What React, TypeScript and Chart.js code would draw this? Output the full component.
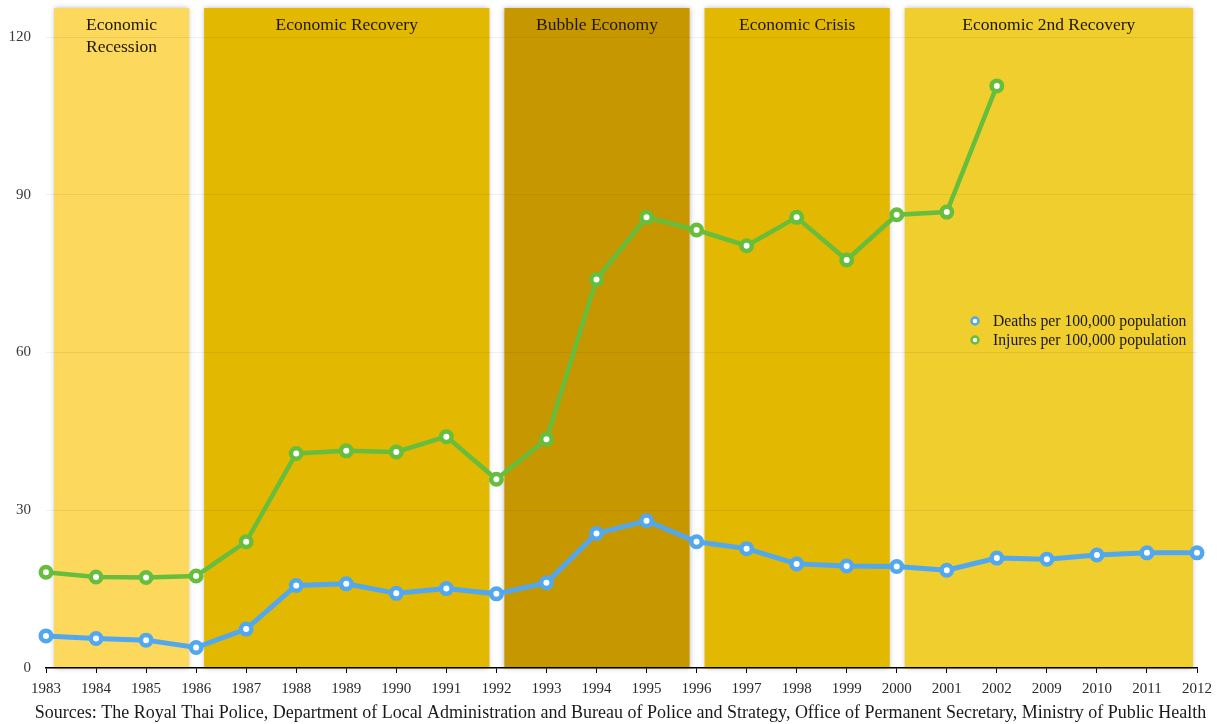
import { useEffect, useRef } from "react";
import { Chart, registerables } from "chart.js";

Chart.register(...registerables);

// Years on the x axis (gap between 2002 and 2009 in the source series)
const years = [
  "1983", "1984", "1985", "1986", "1987", "1988", "1989", "1990", "1991", "1992",
  "1993", "1994", "1995", "1996", "1997", "1998", "1999", "2000", "2001", "2002",
  "2009", "2010", "2011", "2012",
];

// Road traffic deaths per 100,000 population
const deathsPer100k = [
  6.1, 5.6, 5.3, 3.9, 7.4, 15.7, 16.0, 14.2, 15.1, 14.1,
  16.2, 25.6, 28.0, 24.0, 22.7, 19.8, 19.4, 19.3, 18.6, 20.9,
  20.7, 21.5, 21.9, 21.9,
];

// Road traffic injuries per 100,000 population (no data after 2002)
const injuriesPer100k: (number | null)[] = [
  18.2, 17.3, 17.2, 17.5, 24.0, 40.8, 41.3, 41.1, 44.0, 35.9,
  43.5, 73.9, 85.7, 83.3, 80.3, 85.7, 77.6, 86.2, 86.7, 110.7,
  null, null, null, null,
];

const yTicks = [0, 30, 60, 90, 120];

// Economic periods shaded behind the series
const periodNames = [
  ["Economic", "Recession"],
  ["Economic Recovery"],
  ["Bubble Economy"],
  ["Economic Crisis"],
  ["Economic 2nd Recovery"],
];
const periodFrom = ["1983", "1986", "1992", "1996", "2000"];
const periodTo = ["1986", "1992", "1996", "2000", "2012"];
const periodColors = ["#FCD95C", "#E2B800", "#C79700", "#E2B800", "#F0CE2E"];

const seriesLabels = ["Deaths per 100,000 population", "Injures per 100,000 population"];
const seriesColors = ["#52A8EE", "#66BE3C"];

const sourceNote =
  "Sources: The Royal Thai Police, Department of Local Administration and Bureau of Police and Strategy, Office of Permanent Secretary, Ministry of Public Health";

const SERIF = "'Liberation Serif', 'Times New Roman', serif";

const periodBands = {
  id: "periodBands",
  beforeDraw(chart: any) {
    const { ctx, chartArea, scales } = chart;
    const x = scales.x;
    const top = chartArea.top - 29;
    ctx.save();
    periodFrom.forEach((from, i) => {
      const last = i === periodFrom.length - 1;
      const left = x.getPixelForValue(years.indexOf(from)) + 8;
      const right = x.getPixelForValue(years.indexOf(periodTo[i])) - (last ? 4 : 7);
      ctx.shadowColor = "rgba(0,0,0,0.28)";
      ctx.shadowBlur = 5;
      ctx.fillStyle = periodColors[i];
      ctx.fillRect(left, top, right - left, chartArea.bottom - top);
      ctx.shadowColor = "transparent";
      ctx.shadowBlur = 0;
      ctx.fillStyle = "#1f1800";
      ctx.font = `17.5px ${SERIF}`;
      ctx.textAlign = "center";
      ctx.textBaseline = "middle";
      periodNames[i].forEach((line, j) => {
        ctx.fillText(line, (left + right) / 2, top + 17 + j * 22);
      });
    });
    ctx.restore();
  },
};

const inlineLegend = {
  id: "inlineLegend",
  afterDatasetsDraw(chart: any) {
    const { ctx, chartArea } = chart;
    const lx = chartArea.right - 222;
    ctx.save();
    seriesLabels.forEach((label, i) => {
      const ly = chartArea.top + 284 + i * 19;
      ctx.beginPath();
      ctx.arc(lx, ly, 3.5, 0, Math.PI * 2);
      ctx.fillStyle = "#ffffff";
      ctx.fill();
      ctx.lineWidth = 2.5;
      ctx.strokeStyle = seriesColors[i];
      ctx.stroke();
      ctx.fillStyle = "#1a1a1a";
      ctx.font = `15.7px ${SERIF}`;
      ctx.textAlign = "left";
      ctx.textBaseline = "middle";
      ctx.fillText(label, lx + 18, ly + 1);
    });
    ctx.restore();
  },
};

// Source line under the year labels, centred on the plot area
const sourceLine = {
  id: "sourceLine",
  afterDraw(chart: any) {
    const { ctx, chartArea, height } = chart;
    ctx.save();
    ctx.fillStyle = "#1a1a1a";
    ctx.font = `18px ${SERIF}`;
    ctx.textAlign = "center";
    ctx.textBaseline = "middle";
    ctx.fillText(sourceNote, (chartArea.left + chartArea.right) / 2 - 1, height - 11);
    ctx.restore();
  },
};

export default function App() {
  const canvasRef = useRef<HTMLCanvasElement | null>(null);

  useEffect(() => {
    document.body.style.margin = "0";
    const canvas = canvasRef.current;
    if (!canvas) return;
    Chart.defaults.font.family = SERIF;

    const chart = new Chart(canvas, {
      type: "line",
      data: {
        labels: years,
        datasets: [
          {
            label: seriesLabels[0],
            data: deathsPer100k,
            borderColor: seriesColors[0],
            borderWidth: 5,
            pointRadius: 5.25,
            pointBorderWidth: 4.5,
            pointBackgroundColor: "#ffffff",
            pointBorderColor: seriesColors[0],
            tension: 0,
          },
          {
            label: seriesLabels[1],
            data: injuriesPer100k,
            borderColor: seriesColors[1],
            borderWidth: 4.5,
            pointRadius: 5.25,
            pointBorderWidth: 4.5,
            pointBackgroundColor: "#ffffff",
            pointBorderColor: seriesColors[1],
            tension: 0,
            spanGaps: false,
          },
        ],
      },
      options: {
        animation: false,
        responsive: true,
        maintainAspectRatio: false,
        layout: { padding: { top: 37, right: 25, left: 0, bottom: 0 } },
        plugins: {
          legend: { display: false },
          tooltip: { enabled: false },
        },
        scales: {
          x: {
            type: "category",
            offset: false,
            afterFit(scale: any) {
              scale.height = 56;
            },
            grid: {
              display: true,
              drawOnChartArea: false,
              drawTicks: true,
              tickLength: 5,
              color: "#000000",
            },
            border: { display: true, color: "#000000", width: 1.5 },
            ticks: {
              color: "#2a2a2a",
              font: { size: 15, family: SERIF },
              padding: 7,
              maxRotation: 0,
              autoSkip: false,
            },
          },
          y: {
            min: yTicks[0],
            max: yTicks[yTicks.length - 1],
            afterFit(scale: any) {
              scale.width = 46;
            },
            afterBuildTicks(scale: any) {
              scale.ticks = yTicks.map((v) => ({ value: v }));
            },
            grid: {
              color: "rgba(0,0,0,0.06)",
              drawTicks: false,
            },
            border: { display: false },
            ticks: {
              color: "#3a3a3a",
              font: { size: 15, family: SERIF },
              padding: 15,
            },
          },
        },
      },
      plugins: [periodBands, inlineLegend, sourceLine],
    });

    return () => chart.destroy();
  }, []);

  return (
    <div style={{ width: 1222, height: 724, position: "relative" }}>
      <canvas ref={canvasRef} />
    </div>
  );
}
